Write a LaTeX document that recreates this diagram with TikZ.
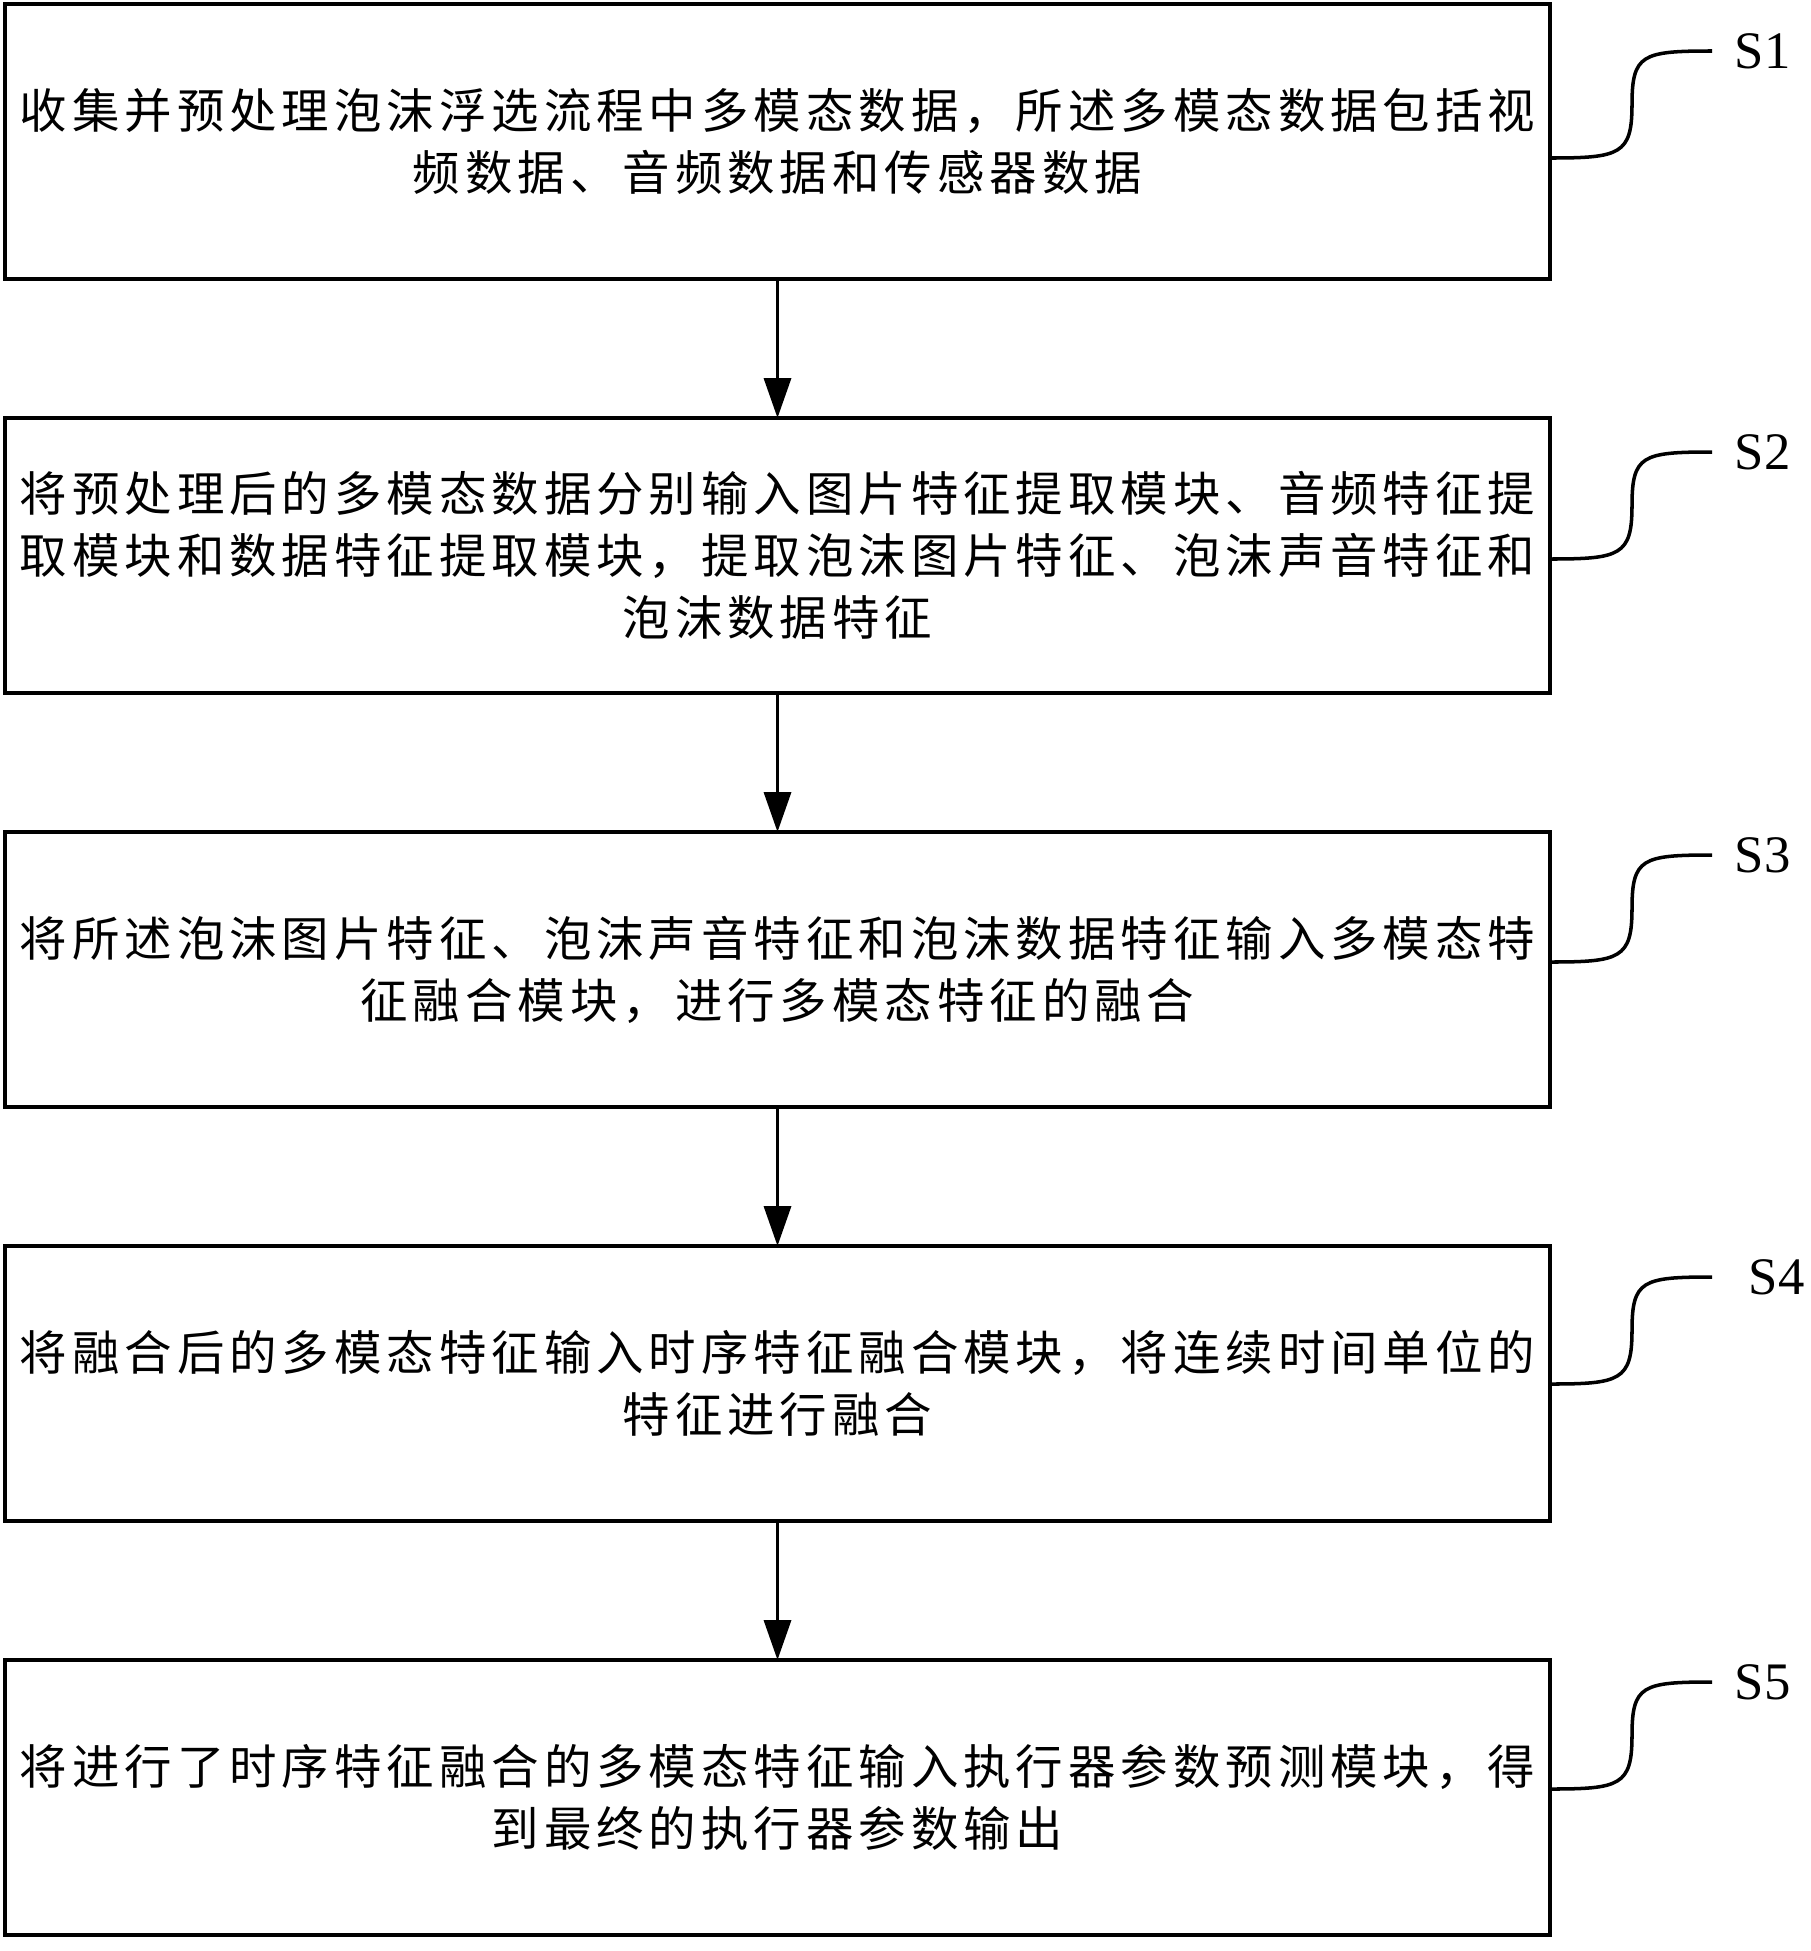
\documentclass[tikz,border=0pt]{standalone}
\usepackage{fontspec}
\setmainfont{Liberation Serif}
\newfontfamily\cjkfont[LetterSpace=10.5]{Noto Sans CJK SC}
\usetikzlibrary{arrows.meta, positioning}

\begin{document}
\begin{tikzpicture}[>={Triangle[length=0.4cm, width=0.27cm]},
    stepbox/.style={draw, line width=1.2pt, minimum width=15.45cm, minimum height=2.75cm,
      inner sep=0pt, outer sep=0pt, align=center, font=\cjkfont\fontsize{13.5pt}{17.6pt}\selectfont},
    flow/.style={->, line width=1pt},
    tagline/.style={line width=1pt},
    tag/.style={anchor=west, inner ysep=0pt, font=\fontsize{15pt}{18pt}\selectfont}]
  \useasboundingbox (0,0) rectangle (18.11,-19.51);

  % Steps
  \node[stepbox] (s1) at (7.775,-1.415) {收集并预处理泡沫浮选流程中多模态数据，所述多模态数据包括视\\频数据、音频数据和传感器数据};
  \node[stepbox, below=1.39cm of s1] (s2) {将预处理后的多模态数据分别输入图片特征提取模块、音频特征提\\取模块和数据特征提取模块，提取泡沫图片特征、泡沫声音特征和\\泡沫数据特征};
  \node[stepbox, below=1.39cm of s2] (s3) {将所述泡沫图片特征、泡沫声音特征和泡沫数据特征输入多模态特\\征融合模块，进行多模态特征的融合};
  \node[stepbox, below=1.39cm of s3] (s4) {将融合后的多模态特征输入时序特征融合模块，将连续时间单位的\\特征进行融合};
  \node[stepbox, below=1.39cm of s4] (s5) {将进行了时序特征融合的多模态特征输入执行器参数预测模块，得\\到最终的执行器参数输出};

  % Flow arrows
  \foreach \a/\b in {s1/s2, s2/s3, s3/s4, s4/s5}
    \draw[flow] (\a.south) -- (\b.north);

  % Step labels with S-shaped leaders
  \foreach \s/\dy/\gap/\lbl in {s1/-0.165/0.22/S1, s2/-0.035/0.22/S2, s3/0.075/0.22/S3, s4/-0.005/0.36/S4, s5/0.085/0.22/S5} {
    \coordinate (\s-foot) at ([yshift=\dy cm]\s.east);
    \node[tag, inner xsep=\gap cm] (\s-tag) at ([shift={(1.62,1.07)}]\s-foot) {\lbl};
    \draw[tagline] (\s-foot) .. controls +(0.7,0) and +(0,-0.5) .. ++(0.82,0.535)
      .. controls +(0,0.5) and +(-0.7,0) .. (\s-tag.west);
  }
\end{tikzpicture}
\end{document}
